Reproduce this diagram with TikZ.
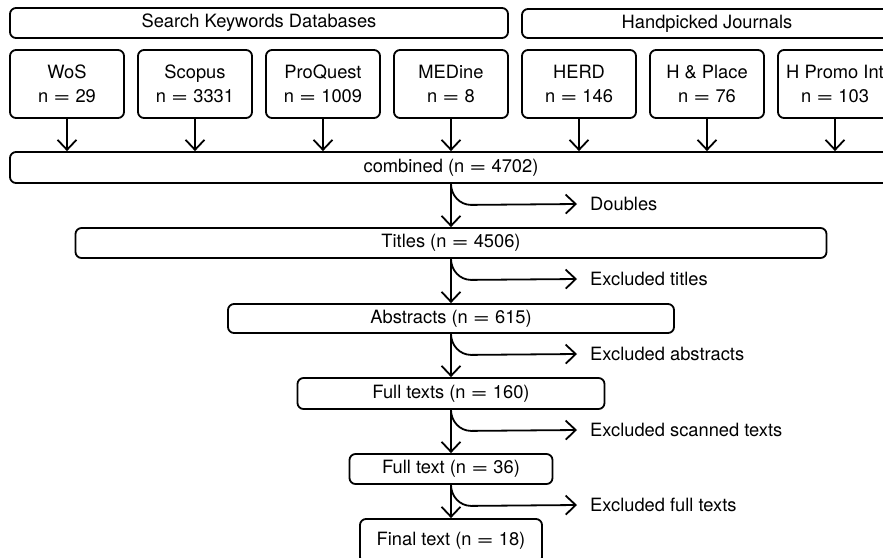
\documentclass[tikz,border=0pt]{standalone}
\usepackage{fontspec}
\setmainfont{TeX Gyre Heros}
\usetikzlibrary{arrows.meta}
% a wide equals sign, as in the printed counts
\newcommand\wideeq{\scalebox{1.6}[1]{=}}
\begin{document}
\begin{tikzpicture}[x=1pt,y=-1pt,
  box/.style={draw, line width=1.8pt, rounded corners=6pt, inner sep=0pt,
    font=\fontsize{18.3}{24}\selectfont, align=center},
  flow/.style={line width=1.8pt, -{Straight Barb[length=10pt,width=19pt]}},
  note/.style={anchor=west, inner xsep=13pt, inner ysep=0pt,
    font=\fontsize{18.3}{24}\selectfont}]
\useasboundingbox (0,0) rectangle (883,557);
\clip (0,0) rectangle (883,557);

% group headers
\node[box, minimum width=498pt, minimum height=30pt] (kw) at (259,23) {Search Keywords Databases};
\node[box, minimum width=370pt, minimum height=29pt] (hp) at (707,23.5) {Handpicked Journals};

% sources
\foreach \n/\x/\t in {s1/67/{WoS\\n \wideeq{} 29}, s2/195/{Scopus\\n \wideeq{} 3331}, s3/323/{ProQuest\\n \wideeq{} 1009},
    s4/451/{MEDine\\n \wideeq{} 8}, s5/579/{HERD\\n \wideeq{} 146}, s6/707/{H \& Place\\n \wideeq{} 76}, s7/835/{H Promo Int\\n \wideeq{} 103}}
  \node[box, minimum width=114pt, minimum height=68pt] (\n) at (\x,84) {\t};

% screening stages
\node[box, minimum width=882pt, minimum height=31pt] (cb) at (451,167.5) {combined (n \wideeq{} 4702)};
\node[box, minimum width=751pt, minimum height=30pt] (ti) at (451,243) {Titles (n \wideeq{} 4506)};
\node[box, minimum width=446pt, minimum height=29pt] (ab) at (451,318.5) {Abstracts (n \wideeq{} 615)};
\node[box, minimum width=307pt, minimum height=31pt] (ft) at (451,393.5) {Full texts (n \wideeq{} 160)};
\node[box, minimum width=203pt, minimum height=30pt] (fx) at (451,469) {Full text (n \wideeq{} 36)};
\node[box, minimum width=182pt, minimum height=44pt] (fn) at (451,541) {Final text (n \wideeq{} 18)};

% exclusion labels
\node[note] (dbl) at (577,204) {Doubles};
\node[note] (ext) at (577,279) {Excluded titles};
\node[note] (exa) at (577,354) {Excluded abstracts};
\node[note] (exs) at (577,430) {Excluded scanned texts};
\node[note] (exf) at (577,505) {Excluded full texts};

% sources into the combined set
\foreach \n in {s1,s2,s3,s4,s5,s6,s7}
  \draw[flow] (\n.south) -- (\n.south |- cb.north);

% main flow
\draw[flow] (cb.south) -- (ti.north);
\draw[flow] (ti.south) -- (ab.north);
\draw[flow] (ab.south) -- (ft.north);
\draw[flow] (ft.south) -- (fx.north);
\draw[flow] (fx.south) -- (fn.north);

% exclusions branching off
\draw[flow] (cb.south) to[out=-90,in=180] ++(20,21) -- (dbl.west);
\draw[flow] (ti.south) to[out=-90,in=180] ++(20,21) -- (ext.west);
\draw[flow] (ab.south) to[out=-90,in=180] ++(20,21) -- (exa.west);
\draw[flow] (ft.south) to[out=-90,in=180] ++(20,21) -- (exs.west);
\draw[flow] (fx.south) to[out=-90,in=180] ++(20,21) -- (exf.west);
\end{tikzpicture}
\end{document}
